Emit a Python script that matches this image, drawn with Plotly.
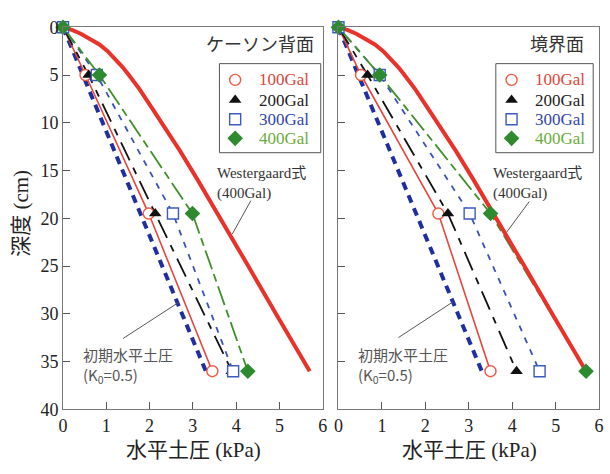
import plotly.graph_objects as go

W, H = 610, 474

# ---------------- data ----------------
depth_pts = [0, 5, 19.5, 36]

# left panel: ケーソン背面
L_100 = [0, 0.52, 1.98, 3.45]
L_200 = [0, 0.59, 2.13, 3.90]
L_300 = [0, 0.78, 2.54, 3.93]
L_400 = [0, 0.84, 2.99, 4.27]

# right panel: 境界面
R_100 = [0, 0.52, 2.30, 3.50]
R_200 = [0, 0.67, 2.52, 4.10]
R_300 = [0, 0.95, 3.02, 4.63]
R_400 = [0, 0.95, 3.50, 5.70]

# Westergaard (400Gal) curve
west_depth = [0, 0.3, 0.7, 1.2, 1.8, 2.5, 3.3, 4.2, 5.0, 6.5, 8.5, 10.2, 13.0, 15.9, 20.3, 25.0, 30.3, 36]
west_p = [0, 0.22, 0.42, 0.62, 0.84, 1.03, 1.21, 1.38, 1.52, 1.77, 2.06, 2.31, 2.71, 3.10, 3.66, 4.28, 4.96, 5.70]

# initial earth pressure K0 = 0.5
k0_depth = [0, 36]
k0_p = [0, 3.30]

series_names = ["100Gal", "200Gal", "300Gal", "400Gal"]
x_ticks = [0, 1, 2, 3, 4, 5, 6]
y_ticks = [0, 5, 10, 15, 20, 25, 30, 35, 40]

# ---------------- styles ----------------
SERIF = '"Liberation Serif", "Times New Roman", serif'
MIX = '"Liberation Serif", "Noto Sans CJK JP", serif'
CJK = '"Noto Sans CJK JP", "Liberation Serif", sans-serif'
C_RED = "#e8453c"
C_WEST = "#e8322a"
C_BLK = "#111111"
C_BLUE = "#3a52b8"
C_K0 = "#1f2fa0"
C_GRN = "#3f8f2a"
TXT_COL = ["#e0443a", "#222222", "#2f45b0", "#6aac3a"]

line_styles = [
    dict(color=C_RED, width=1.6, dash="solid"),
    dict(color=C_BLK, width=1.8, dash="20px,8px,7px,8px"),
    dict(color=C_BLUE, width=1.8, dash="6px,7px"),
    dict(color=C_GRN, width=1.8, dash="20px,5px,8px,5px"),
]
markers = [
    dict(symbol="circle", size=11, color="white", line=dict(color="#ee5a44", width=1.4)),
    dict(symbol="triangle-up", size=11, color="#111111", line=dict(color="#111111", width=0)),
    dict(symbol="square", size=11, color="white", line=dict(color="#3a5ac0", width=1.4)),
    dict(symbol="diamond", size=12, color="#2e8a2e", line=dict(color="#2e8a2e", width=0)),
]

fig = go.Figure()

panels = [
    ("x", "y", [L_100, L_200, L_300, L_400]),
    ("x2", "y2", [R_100, R_200, R_300, R_400]),
]

for xa, ya, data in panels:
    fig.add_trace(go.Scatter(x=k0_p, y=k0_depth, mode="lines", xaxis=xa, yaxis=ya,
                             line=dict(color=C_K0, width=4, dash="8px,6px"),
                             showlegend=False, hoverinfo="skip"))
    for vals, ls in zip(data, line_styles):
        fig.add_trace(go.Scatter(x=vals, y=depth_pts, mode="lines", xaxis=xa, yaxis=ya,
                                 line=ls, showlegend=False, hoverinfo="skip"))
    fig.add_trace(go.Scatter(x=west_p, y=west_depth, mode="lines", xaxis=xa, yaxis=ya,
                             line=dict(color=C_WEST, width=4),
                             showlegend=False, hoverinfo="skip"))
    for vals, mk in zip(data, markers):
        fig.add_trace(go.Scatter(x=vals, y=depth_pts, mode="markers", xaxis=xa, yaxis=ya,
                                 marker=mk, showlegend=False, cliponaxis=False))

# ---------------- helpers ----------------
def px_x(p):
    return p / W

def px_y(p):
    return 1 - p / H

# ---------------- manual legends (overlay pixel axis) ----------------
legend_boxes = [(218, 56, 321, 149), (499, 56, 598, 149)]
row_y = [73, 94, 114, 134]
for bx0, by0, bx1, by1 in legend_boxes:
    fig.add_shape(type="rect", xref="paper", yref="paper",
                  x0=px_x(bx0), y0=px_y(by0), x1=px_x(bx1), y1=px_y(by1),
                  line=dict(color="#555", width=1), fillcolor="white", layer="below")
    for ry, mk in zip(row_y, markers):
        fig.add_trace(go.Scatter(x=[bx0 + 16], y=[ry], mode="markers", xaxis="x3", yaxis="y3",
                                 marker=mk, showlegend=False, hoverinfo="skip", cliponaxis=False))

ydom = [px_y(417), px_y(18)]
axis_common = dict(
    ticks="inside", ticklen=7, tickcolor="#555", tickwidth=1,
    showline=True, linecolor="#777", linewidth=1, mirror=True,
    showgrid=False, zeroline=False,
    tickfont=dict(family=SERIF, size=18, color="#222"),
)

fig.update_layout(
    width=W, height=H,
    margin=dict(l=0, r=0, t=0, b=0),
    paper_bgcolor="white", plot_bgcolor="rgba(0,0,0,0)",
    xaxis=dict(domain=[px_x(59), px_x(323)], range=[0, 6], tickvals=x_ticks, anchor="y", **axis_common),
    yaxis=dict(domain=ydom, range=[40, 0], tickvals=y_ticks, anchor="x", **axis_common),
    xaxis2=dict(domain=[px_x(339), px_x(604)], range=[0, 6], tickvals=x_ticks, anchor="y2", **axis_common),
    yaxis2=dict(domain=ydom, range=[40, 0], tickvals=y_ticks, anchor="x2", showticklabels=False, **axis_common),
    xaxis3=dict(domain=[0, 1], range=[0, W], visible=False, anchor="y3", fixedrange=True),
    yaxis3=dict(domain=[0, 1], range=[H, 0], visible=False, anchor="x3", fixedrange=True),
    showlegend=False,
)

annots = [
    dict(text="ケーソン背面", x=px_x(316), y=px_y(34), xanchor="right", yanchor="middle",
         font=dict(family=CJK, size=18, color="#333")),
    dict(text="境界面", x=px_x(591), y=px_y(34), xanchor="right", yanchor="middle",
         font=dict(family=CJK, size=18, color="#333")),
    dict(text="Westergaard式<br>(400Gal)", x=px_x(213), y=px_y(160), xanchor="left", yanchor="top",
         align="left", font=dict(family=MIX, size=15, color="#333")),
    dict(text="Westergaard式<br>(400Gal)", x=px_x(494), y=px_y(160), xanchor="left", yanchor="top",
         align="left", font=dict(family=MIX, size=15, color="#333")),
    dict(text="初期水平土圧<br>(K<sub>0</sub>=0.5)", x=px_x(77), y=px_y(347), xanchor="left", yanchor="top",
         align="left", font=dict(family=CJK, size=15, color="#555")),
    dict(text="初期水平土圧<br>(K<sub>0</sub>=0.5)", x=px_x(357), y=px_y(347), xanchor="left", yanchor="top",
         align="left", font=dict(family=CJK, size=15, color="#555")),
    dict(text="水平土圧 (kPa)", x=px_x(192), y=px_y(459), xanchor="center", yanchor="middle",
         font=dict(family=MIX, size=21, color="#222")),
    dict(text="水平土圧 (kPa)", x=px_x(472), y=px_y(459), xanchor="center", yanchor="middle",
         font=dict(family=MIX, size=21, color="#222")),
    dict(text="深度 (cm)", x=px_x(16), y=px_y(212), xanchor="center", yanchor="middle", textangle=-90,
         font=dict(family=MIX, size=21, color="#222")),
]
for bx0, by0, bx1, by1 in legend_boxes:
    for ry, name, tc in zip(row_y, series_names, TXT_COL):
        annots.append(dict(text=name, x=px_x(bx0 + 38), y=px_y(ry), xanchor="left", yanchor="middle",
                           font=dict(family=SERIF, size=17, color=tc)))
for a in annots:
    a.update(xref="paper", yref="paper", showarrow=False)
fig.update_layout(annotations=annots)

leaders = [
    (250, 199, 231, 234),
    (533, 200, 510, 232),
    (120, 343, 177, 305),
    (400, 342, 455, 305),
]
for x0, y0, x1, y1 in leaders:
    fig.add_shape(type="line", xref="paper", yref="paper",
                  x0=px_x(x0), y0=px_y(y0), x1=px_x(x1), y1=px_y(y1),
                  line=dict(color="#555", width=1))

fig.write_html("out.html")
